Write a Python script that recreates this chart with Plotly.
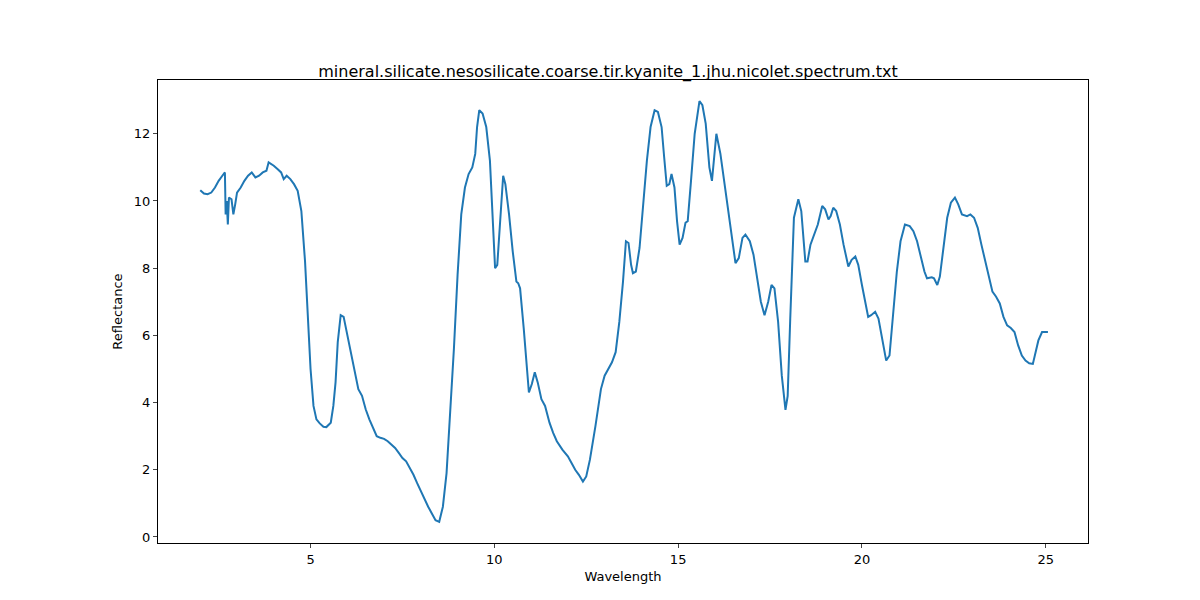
import plotly.graph_objects as go

# Spectrum
wavelength = [
    2.0, 2.1, 2.2, 2.3, 2.4, 2.5, 2.6, 2.67, 2.69, 2.72, 2.75, 2.78, 2.85, 2.9, 2.95, 3.0,
    3.1, 3.2, 3.3, 3.4, 3.5, 3.6, 3.7, 3.8, 3.86, 4.0, 4.1, 4.2, 4.27, 4.35, 4.45, 4.55,
    4.65, 4.75, 4.85, 4.92, 5.0, 5.08, 5.16, 5.25, 5.35, 5.43, 5.55, 5.62, 5.68, 5.74, 5.82,
    5.9, 6.0, 6.1, 6.2, 6.3, 6.4, 6.5, 6.6, 6.7, 6.8, 6.9, 7.0, 7.1, 7.2, 7.3, 7.4, 7.5,
    7.6, 7.7, 7.8, 7.9, 8.0, 8.1, 8.2, 8.3, 8.4, 8.5, 8.6, 8.7, 8.8, 8.9, 9.0, 9.1, 9.2,
    9.3, 9.4, 9.48, 9.53, 9.59, 9.68, 9.78, 9.88, 9.95, 10.02, 10.08, 10.16, 10.24, 10.3,
    10.4, 10.5, 10.6, 10.65, 10.7, 10.8, 10.88, 10.94, 11.02, 11.1, 11.18, 11.28, 11.38,
    11.5, 11.6, 11.7, 11.85, 12.0, 12.1, 12.2, 12.3, 12.41, 12.5, 12.6, 12.75, 12.9, 13.0,
    13.1, 13.2, 13.3, 13.4, 13.5, 13.58, 13.65, 13.72, 13.77, 13.85, 13.95, 14.05, 14.15,
    14.25, 14.36, 14.45, 14.55, 14.62, 14.69, 14.76, 14.82, 14.9, 14.97, 15.04, 15.12,
    15.2, 15.26, 15.35, 15.45, 15.58, 15.66, 15.75, 15.85, 15.92, 16.04, 16.15, 16.3,
    16.45, 16.56, 16.65, 16.75, 16.83, 16.95, 17.05, 17.15, 17.25, 17.35, 17.45, 17.54,
    17.62, 17.72, 17.82, 17.92, 17.98, 18.05, 18.15, 18.27, 18.35, 18.46, 18.52, 18.6,
    18.7, 18.8, 18.92, 19.0, 19.09, 19.15, 19.22, 19.3, 19.4, 19.5, 19.63, 19.72, 19.82,
    19.9, 20.0, 20.1, 20.17, 20.25, 20.36, 20.45, 20.55, 20.66, 20.75, 20.85, 20.95, 21.05,
    21.17, 21.3, 21.4, 21.5, 21.6, 21.7, 21.77, 21.9, 21.96, 22.05, 22.12, 22.22, 22.32,
    22.42, 22.53, 22.62, 22.72, 22.86, 22.95, 23.05, 23.15, 23.25, 23.35, 23.45, 23.55,
    23.65, 23.75, 23.85, 23.95, 24.05, 24.15, 24.25, 24.35, 24.45, 24.55, 24.65, 24.72,
    24.8, 24.9, 25.0, 25.06,
]
reflectance = [
    10.32, 10.22, 10.2, 10.25, 10.4, 10.6, 10.75, 10.85, 9.6, 10.0, 9.3, 10.1, 10.05, 9.6, 9.9, 10.25,
    10.4, 10.6, 10.75, 10.85, 10.7, 10.75, 10.85, 10.9, 11.15, 11.05, 10.95, 10.85, 10.65, 10.75, 10.65, 10.5,
    10.3, 9.7, 8.2, 6.5, 5.0, 3.9, 3.5, 3.38, 3.28, 3.27, 3.4, 3.9, 4.6, 5.8, 6.6,
    6.55, 6.0, 5.4, 4.85, 4.4, 4.2, 3.8, 3.5, 3.25, 3.0, 2.95, 2.92, 2.85, 2.75, 2.65, 2.5, 2.35,
    2.25, 2.05, 1.85, 1.6, 1.35, 1.15, 0.9, 0.7, 0.5, 0.45, 0.9, 1.9, 3.6, 5.6, 7.8, 9.6, 10.4,
    10.8, 11.0, 11.4, 12.2, 12.7, 12.6, 12.2, 11.2, 9.8, 8.0, 8.1, 9.6, 10.75, 10.5,
    9.6, 8.5, 7.6, 7.55, 7.4, 6.2, 5.0, 4.3, 4.55, 4.9, 4.6, 4.1, 3.9, 3.4, 3.1, 2.85,
    2.6, 2.4, 2.2, 2.0, 1.85, 1.65, 1.8, 2.3, 3.3, 4.4, 4.8, 5.0, 5.2, 5.5, 6.4, 7.6, 8.8,
    8.75, 8.1, 7.85, 7.9, 8.6, 9.9, 11.2, 12.2, 12.7, 12.65, 12.2, 11.3, 10.45, 10.5,
    10.8, 10.4, 9.4, 8.7, 8.9, 9.35, 9.4, 10.6, 12.0, 12.97, 12.85, 12.3, 11.0, 10.6,
    12.0, 11.4, 10.2, 8.9, 8.15, 8.3, 8.9, 9.0, 8.8, 8.4, 7.7, 7.0, 6.6, 7.0, 7.5, 7.4,
    6.4, 4.8, 3.78, 4.2, 6.5, 9.5, 10.05, 9.7, 8.2, 8.2, 8.7, 9.0, 9.3, 9.85, 9.75, 9.45,
    9.55, 9.8, 9.7, 9.3, 8.7, 8.05, 8.25, 8.35, 8.1, 7.5, 6.9, 6.55, 6.6, 6.7, 6.5, 5.9,
    5.25, 5.4, 6.6, 7.9, 8.8, 9.3, 9.25, 9.1, 8.8, 8.3, 7.9, 7.7, 7.73, 7.7, 7.5, 7.75,
    8.6, 9.5, 9.95, 10.1, 9.9, 9.6, 9.55, 9.6, 9.5, 9.2, 8.7, 8.2, 7.7, 7.3, 7.15, 6.95,
    6.55, 6.3, 6.22, 6.1, 5.7, 5.4, 5.25, 5.17, 5.15, 5.5, 5.85, 6.1, 6.1, 6.1,
]

fig = go.Figure(go.Scatter(x=wavelength, y=reflectance, mode="lines",
                           line=dict(color="#1f77b4", width=2)))

axis_style = dict(showline=True, linecolor="black", linewidth=1, mirror=True,
                  ticks="outside", ticklen=4, showgrid=False, zeroline=False,
                  automargin=False, tickfont=dict(size=13, color="black"))

fig.update_layout(
    width=1200, height=600,
    margin=dict(l=150, r=120, t=72, b=65),
    plot_bgcolor="white", paper_bgcolor="white",
    font=dict(family="DejaVu Sans", color="black"),
    title=dict(text="mineral.silicate.nesosilicate.coarse.tir.kyanite_1.jhu.nicolet.spectrum.txt",
               x=0.5, xanchor="center", y=0.885, yanchor="bottom", font=dict(size=16)),
    showlegend=False,
)
fig.update_xaxes(axis_style, range=[0.85, 26.15], tickvals=[5, 10, 15, 20, 25],
                 title=dict(text="Wavelength", font=dict(size=13), standoff=6))
fig.update_yaxes(axis_style, range=[-0.18, 13.6], tickvals=[0, 2, 4, 6, 8, 10, 12],
                 title=dict(text="Reflectance", font=dict(size=13), standoff=8))

fig.write_html("out.html")
